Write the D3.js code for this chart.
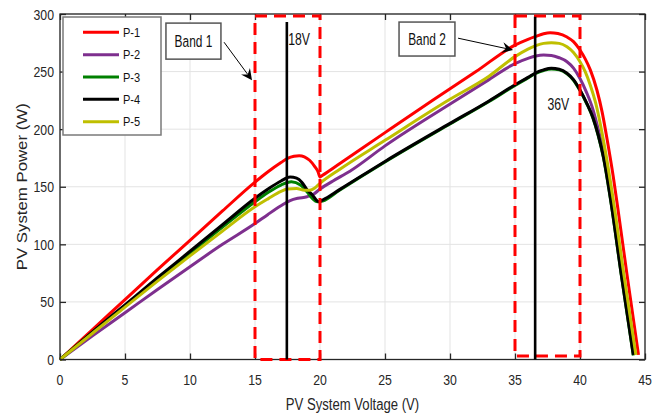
<!DOCTYPE html>
<html><head><meta charset="utf-8">
<script src="https://cdn.jsdelivr.net/npm/d3@7/dist/d3.min.js"></script>
<style>body{margin:0;background:#fff}svg{display:block}</style>
</head><body>
<svg id="chart" width="669" height="416"></svg>
<script>
// ---------- data ----------
const xTicks = [0, 5, 10, 15, 20, 25, 30, 35, 40, 45];
const yTicks = [0, 50, 100, 150, 200, 250, 300];
const seriesNames = ["P-1", "P-2", "P-3", "P-4", "P-5"];
const seriesColors = ["#ff0000", "#7e2f8e", "#008000", "#000000", "#bfbf00"];

const voltP1 = [0, 2.5, 5, 7.5, 10, 12.5, 15, 16, 17, 17.5, 18, 18.4, 18.8, 19.2, 19.6, 19.85, 20.0, 20.2, 21.5, 25, 28.7, 32, 35, 36, 36.6, 37.2, 37.7, 38.3, 39, 39.5, 40, 40.4, 40.8, 41.3, 41.7, 42.05, 42.56, 43.0, 43.6, 44.5];
const powP1  = [0, 26, 52, 78, 103.5, 129, 154, 163, 171, 174.6, 176.5, 177, 176, 173, 167.5, 163, 158.5, 160, 170, 197, 225.3, 250, 273, 278, 280.5, 282.8, 283.7, 283, 280, 276, 268.7, 261, 251.3, 234, 215, 193.4, 158.7, 124, 75, 4];

const voltP2 = [0, 2.5, 5, 7.5, 10, 12.5, 15, 16, 17, 17.7, 18.3, 19, 19.5, 20, 21, 22.3, 25, 30.5, 33, 35, 36, 36.6, 37.2, 37.8, 38.4, 39, 39.5, 40, 40.5, 41, 41.4, 41.8, 42.4, 43.3, 44.15];
const powP2  = [0, 20.5, 40.6, 60.8, 80.6, 100, 118, 126, 133.5, 138, 140, 141.3, 143.5, 148, 155, 163.5, 185.5, 225.3, 243, 257, 261.5, 263.5, 264.3, 264, 262, 258.5, 253, 244, 232, 217, 200, 180, 140, 72, 4];

const voltP3 = [0, 2.5, 5, 7.5, 10, 12.5, 15, 16, 17, 17.8, 18.5, 19, 19.4, 19.8, 20.2, 21.5, 25, 30, 33, 35, 36, 36.6, 37.2, 37.8, 38.4, 39, 39.5, 40, 40.5, 41, 41.4, 41.8, 42.36, 43.2, 44.1];
const powP3  = [0, 23.5, 46.6, 69.5, 92.2, 115, 137, 145, 151.5, 154.3, 151.5, 145.7, 140, 137, 137.6, 147, 171.5, 204.5, 224, 238, 244.5, 248.5, 251, 252.3, 251.5, 248, 242.5, 233.5, 222.5, 209.5, 194.5, 175.5, 138, 71.5, 3.5];

const voltP4 = [0, 2.5, 5, 7.5, 10, 12.5, 15, 16, 17, 17.7, 18.2, 18.6, 19, 19.4, 19.9, 20.2, 21.5, 25, 30, 33, 35, 36, 36.6, 37.2, 37.8, 38.4, 39, 39.5, 40, 40.5, 41, 41.4, 41.8, 42.36, 43.2, 44.1];
const powP4  = [0, 24, 47.5, 71, 94, 117, 140, 148, 155, 158.5, 157.5, 154, 147.5, 143, 137, 138.5, 147.5, 172, 205, 224.5, 238.5, 245, 249, 251.5, 252.8, 252, 248.5, 243, 234, 223, 210, 195, 176, 138.5, 72, 4];

const voltP5 = [0, 2.5, 5, 7.5, 10, 12.5, 15, 16, 17, 17.5, 18.2, 18.8, 19.2, 19.6, 20, 21.5, 25, 29.9, 33, 35, 36, 36.6, 37.2, 37.8, 38.4, 39, 39.5, 40, 40.4, 40.8, 41.2, 41.8, 42.56, 43.4, 44.3];
const powP5  = [0, 22.8, 45.5, 68, 90, 111.5, 132.6, 139.5, 146, 148, 148.5, 147, 147, 149, 153, 165, 190.3, 225.3, 246, 263, 269.5, 272.5, 274.5, 275, 274.5, 271.5, 266.5, 258.5, 250, 238, 223, 190.5, 138.5, 72, 4];

// annotation values (data units)
const bandNames = ["Band 1", "Band 2"];
const bandVolt = [[15, 20], [35, 40]];
const bandPow = [[0, 298.2], [3, 298.2]];
const markerLabels = ["18V", "36V"];
const markerVolt = [17.45, 36.55];
const markerTop = [293, 297.6];
const markerLabelPos = [[17.55, 273], [37.5, 217]];
const boxVolt = [[8.15, 12.38], [26.08, 30.38]];
const boxPow = [[260.8, 292.1], [263.5, 293]];
const arrowFrom = [[12.62, 275.5], [30.62, 279]];
const arrowTo = [[14.77, 242.5], [34.85, 268.7]];

// ---------- drawing ----------
const svg = d3.select("#chart");
const L = 60, R = 645, T = 14, B = 359.5;
const x = d3.scaleLinear().domain([0, 45]).range([L, R]);
const y = d3.scaleLinear().domain([0, 300]).range([B, T]);
const FONT = "'Liberation Sans', Arial, Helvetica, sans-serif";
const axisCol = "#262626";

function htext(g, px, py, s, size, sx, anchor, col) {
  return g.append("text")
    .attr("transform", `translate(${px},${py}) scale(${sx},1)`)
    .attr("text-anchor", anchor || "start")
    .attr("font-family", FONT).attr("font-size", size)
    .attr("fill", col || axisCol).text(s);
}

// grid
const grid = svg.append("g");
grid.selectAll(".gx").data(xTicks).enter().append("line")
  .attr("x1", d => x(d)).attr("x2", d => x(d)).attr("y1", T).attr("y2", B)
  .attr("stroke", "#e3e3e3").attr("stroke-width", 1);
grid.selectAll(".gy").data(yTicks).enter().append("line")
  .attr("x1", L).attr("x2", R).attr("y1", d => y(d)).attr("y2", d => y(d))
  .attr("stroke", "#e3e3e3").attr("stroke-width", 1);

// axes (ticks inward on all sides)
const tk = 6;
const ax = svg.append("g").attr("stroke-width", 1.3);
function styleAxis(g) {
  g.select(".domain").remove();
  g.selectAll(".tick line").attr("stroke", axisCol).attr("stroke-width", 1.3);
  g.selectAll(".tick text").remove();
}
ax.append("g").attr("transform", `translate(0,${B})`)
  .call(d3.axisBottom(x).tickValues(xTicks).tickSizeInner(-tk).tickSizeOuter(0)).call(styleAxis);
ax.append("g").attr("transform", `translate(0,${T})`)
  .call(d3.axisTop(x).tickValues(xTicks).tickSizeInner(-tk).tickSizeOuter(0)).call(styleAxis);
ax.append("g").attr("transform", `translate(${L},0)`)
  .call(d3.axisLeft(y).tickValues(yTicks).tickSizeInner(-tk).tickSizeOuter(0)).call(styleAxis);
ax.append("g").attr("transform", `translate(${R},0)`)
  .call(d3.axisRight(y).tickValues(yTicks).tickSizeInner(-tk).tickSizeOuter(0)).call(styleAxis);

// tick labels
const tl = svg.append("g");
xTicks.forEach(d => htext(tl, x(d), 385, String(d), 15, 0.82, "middle"));
yTicks.forEach(d => htext(tl, 54, y(d) + 5.5, String(d), 15, 0.82, "end"));

// axis titles
htext(svg, (L + R) / 2, 410, "PV System Voltage (V)", 16, 0.82, "middle");
svg.append("text")
  .attr("transform", `translate(27,${(T + B) / 2}) rotate(-90) scale(1.2,1)`)
  .attr("text-anchor", "middle").attr("font-family", FONT).attr("font-size", 14)
  .attr("fill", axisCol).text("PV System Power (W)");

// series
const volts = [voltP1, voltP2, voltP3, voltP4, voltP5];
const pows = [powP1, powP2, powP3, powP4, powP5];
const line = d3.line().x(d => x(d[0])).y(d => y(d[1])).curve(d3.curveMonotoneX);
const sg = svg.append("g");
seriesNames.forEach((n, i) => {
  const pts = volts[i].map((v, j) => [v, pows[i][j]]);
  sg.append("path").datum(pts).attr("d", line)
    .attr("fill", "none").attr("stroke", seriesColors[i])
    .attr("stroke-width", 3).attr("stroke-linejoin", "round");
});

// box outline
svg.append("rect").attr("x", L).attr("y", T).attr("width", R - L).attr("height", B - T)
  .attr("fill", "none").attr("stroke", axisCol).attr("stroke-width", 1.3);

// bands (dashed red rectangles)
const ann = svg.append("g");
bandVolt.forEach((bv, i) => {
  ann.append("rect")
    .attr("x", x(bv[0])).attr("y", y(bandPow[i][1]))
    .attr("width", x(bv[1]) - x(bv[0])).attr("height", y(bandPow[i][0]) - y(bandPow[i][1]))
    .attr("fill", "none").attr("stroke", "#ff0000").attr("stroke-width", 3)
    .attr("stroke-dasharray", "12,7");
});

// marker vertical lines
markerVolt.forEach((mv, i) => {
  ann.append("line").attr("x1", x(mv)).attr("x2", x(mv))
    .attr("y1", y(0)).attr("y2", y(markerTop[i]))
    .attr("stroke", "#000").attr("stroke-width", 2.6);
  htext(ann, x(markerLabelPos[i][0]), y(markerLabelPos[i][1]), markerLabels[i], 17, 0.72, "start", "#111");
});

// text boxes and arrows
bandNames.forEach((n, i) => {
  const x0 = x(boxVolt[i][0]), x1 = x(boxVolt[i][1]);
  const y0 = y(boxPow[i][1]), y1 = y(boxPow[i][0]);
  ann.append("rect").attr("x", x0).attr("y", y0).attr("width", x1 - x0).attr("height", y1 - y0)
    .attr("fill", "#fff").attr("stroke", "#555").attr("stroke-width", 1.5);
  htext(ann, (x0 + x1) / 2, (y0 + y1) / 2 + 6, n, 17, 0.7, "middle", "#111");
  const ax0 = x(arrowFrom[i][0]), ay0 = y(arrowFrom[i][1]);
  const ax1 = x(arrowTo[i][0]), ay1 = y(arrowTo[i][1]);
  const ang = Math.atan2(ay1 - ay0, ax1 - ax0);
  const hl = 11, hw = 5.5;
  const ux = Math.cos(ang), uy = Math.sin(ang);
  const bx = ax1 - ux * hl, by = ay1 - uy * hl;
  const nx = ax1 - ux * hl * 0.65, ny = ay1 - uy * hl * 0.65;
  ann.append("line").attr("x1", ax0).attr("y1", ay0).attr("x2", nx).attr("y2", ny)
    .attr("stroke", "#000").attr("stroke-width", 1);
  ann.append("path")
    .attr("d", `M${ax1},${ay1}L${bx - uy * hw},${by + ux * hw}L${nx},${ny}L${bx + uy * hw},${by - ux * hw}Z`)
    .attr("fill", "#000");
});

// legend
const lg = svg.append("g");
lg.append("rect").attr("x", 63).attr("y", 17).attr("width", 98).attr("height", 118)
  .attr("fill", "#fff").attr("stroke", "#7a7a7a").attr("stroke-width", 1.5);
seriesNames.forEach((n, i) => {
  const ly = 32.3 + i * 22.35;
  lg.append("line").attr("x1", 83).attr("x2", 119).attr("y1", ly).attr("y2", ly)
    .attr("stroke", seriesColors[i]).attr("stroke-width", 3);
  htext(lg, 123, ly + 4.5, n, 13, 0.85, "start", "#111");
});
</script>
</body></html>
